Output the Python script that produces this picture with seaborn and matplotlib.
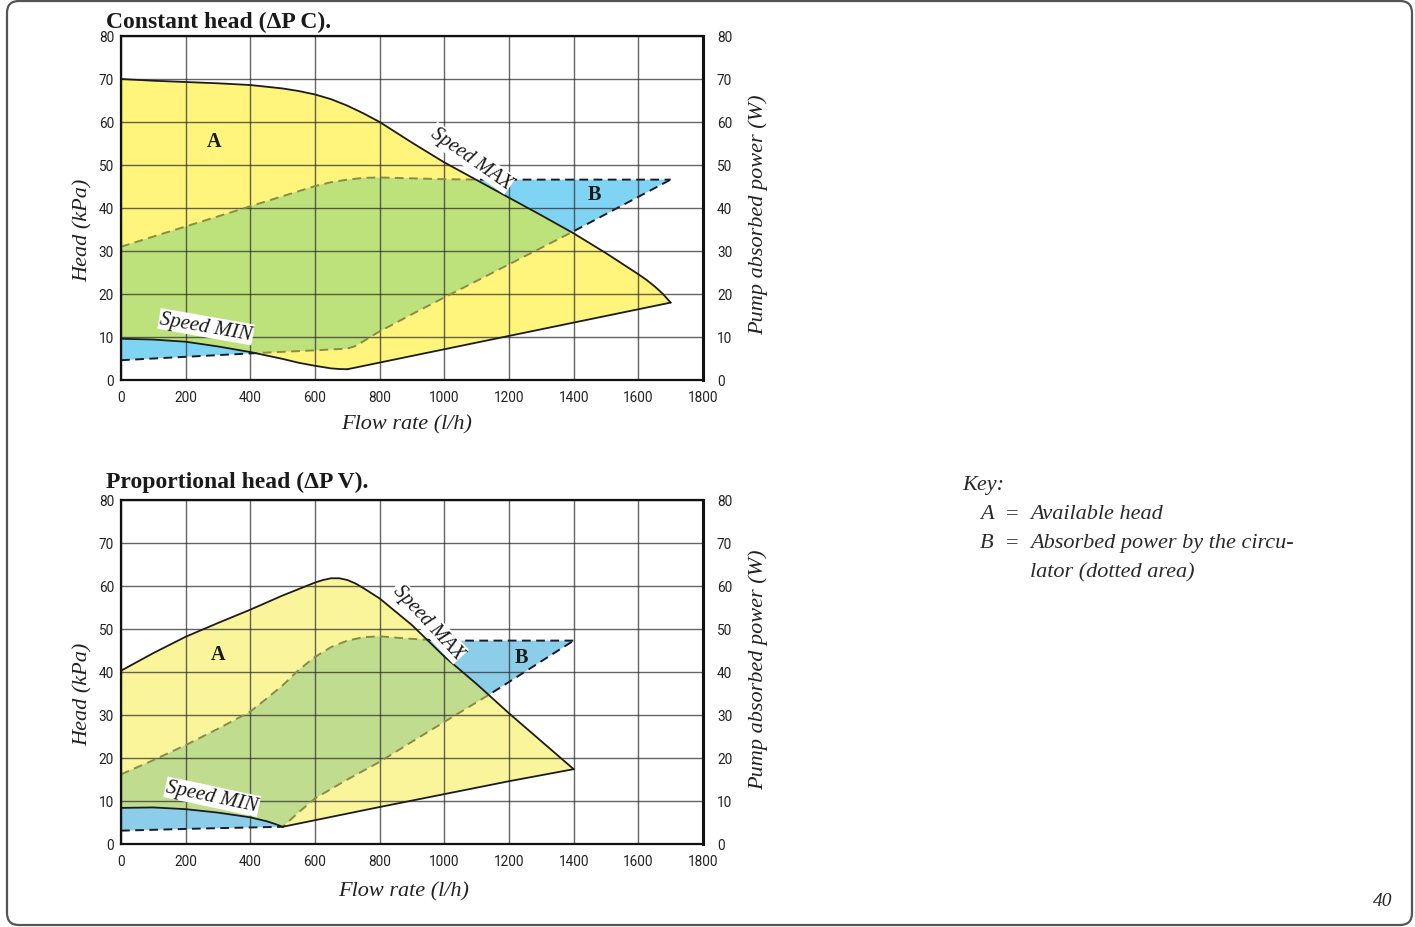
import numpy as np
import pandas as pd
import matplotlib
matplotlib.use("Agg")
import matplotlib.pyplot as plt
import seaborn as sns
from matplotlib.patches import FancyBboxPatch
from matplotlib.transforms import IdentityTransform

# ---------------- data ----------------
flow_ticks = [0, 200, 400, 600, 800, 1000, 1200, 1400, 1600, 1800]
head_ticks = [0, 10, 20, 30, 40, 50, 60, 70, 80]

# Constant head (dP C)
c_max_flow = [0, 100, 200, 300, 400, 500, 550, 600, 650, 700, 750, 800, 850, 900, 1000, 1100, 1200,
              1300, 1400, 1500, 1600, 1625, 1650, 1675, 1700]
c_max_head = [70.0, 69.6, 69.3, 69.0, 68.6, 67.8, 67.2, 66.4, 65.3, 63.8, 62.0, 60.0, 57.6, 55.2, 50.6,
              46.5, 42.4, 38.3, 34.1, 29.5, 24.6, 23.3, 21.8, 20.1, 18.0]
c_low_flow = [700, 1700]
c_low_head = [2.5, 18.0]
c_min_flow = [0, 100, 200, 300, 400, 450, 500, 550, 600, 650, 675, 700]
c_min_head = [9.6, 9.4, 8.9, 7.8, 6.5, 5.7, 4.9, 4.0, 3.3, 2.7, 2.55, 2.5]
c_pw_up_flow = [0, 200, 400, 600, 650, 700, 750, 800, 900, 1000, 1100, 1200, 1700]
c_pw_up_val = [31.0, 35.7, 40.4, 45.1, 46.0, 46.6, 47.0, 47.1, 46.9, 46.7, 46.6, 46.6, 46.6]
c_pw_lo_flow = [0, 430, 600, 650, 700, 725, 750, 775, 800, 900, 1000, 1200, 1390, 1700]
c_pw_lo_val = [4.6, 6.3, 6.9, 7.1, 7.3, 7.9, 9.0, 10.2, 11.3, 15.3, 19.2, 26.9, 34.2, 46.6]

# Proportional head (dP V)
p_max_flow = [0, 100, 200, 300, 400, 500, 600, 625, 650, 675, 700, 725, 750, 775, 800, 850, 900,
              1000, 1100, 1200, 1300, 1400]
p_max_head = [40.3, 44.4, 48.2, 51.4, 54.5, 57.8, 60.8, 61.4, 61.8, 61.8, 61.4, 60.6, 59.5, 58.3,
              57.1, 54.0, 50.9, 43.6, 37.2, 30.4, 23.9, 17.4]
p_low_flow = [500, 800, 1000, 1200, 1400]
p_low_head = [4.0, 8.6, 11.6, 14.6, 17.4]
p_min_flow = [0, 100, 200, 300, 400, 450, 475, 500]
p_min_head = [8.4, 8.5, 8.1, 7.3, 6.2, 5.3, 4.7, 4.0]
p_pw_up_flow = [0, 100, 200, 300, 400, 450, 500, 550, 600, 650, 700, 750, 800, 900, 1000, 1400]
p_pw_up_val = [16.2, 19.5, 23.0, 26.8, 30.8, 33.8, 36.9, 40.5, 43.5, 45.8, 47.3, 48.1, 48.3, 47.7,
               47.3, 47.3]
p_pw_lo_flow = [0, 250, 500, 550, 600, 700, 800, 900, 1000, 1140, 1400]
p_pw_lo_val = [3.1, 3.6, 4.0, 7.4, 10.6, 15.0, 19.1, 23.8, 28.4, 34.8, 47.3]

titles = ["Constant head (\u0394P C).", "Proportional head (\u0394P V)."]

# ---------------- style ----------------
sns.set_theme(style="white")
plt.rcParams['font.family'] = ['Liberation Serif', 'DejaVu Serif']

SERIF = ['Liberation Serif', 'DejaVu Serif']
TICKF = ['Roboto', 'DejaVu Sans']

fig = plt.figure(figsize=(14.15, 9.28), dpi=100)
W, H = 1415, 928

def fx(px):
    return px / W

def fy(py):
    return 1 - py / H

panels = [
    dict(top=37, bottom=381,
         maxf=c_max_flow, maxh=c_max_head, lowf=c_low_flow, lowh=c_low_head,
         minf=c_min_flow, minh=c_min_head,
         puf=c_pw_up_flow, puv=c_pw_up_val, plf=c_pw_lo_flow, plv=c_pw_lo_val,
         yellow='#fff47c', green='#bde17b', blue='#7fd4f4',
         A=(288, 55.6), B=(1464, 43.2),
         smax=(1082, 51.6, -35), smin=(263, 12.4, -10),
         title_base=28, hl_y=0.439, pl_y=0.483, xl_y=-0.100, xl_x=0.491),
    dict(top=501, bottom=845,
         maxf=p_max_flow, maxh=p_max_head, lowf=p_low_flow, lowh=p_low_head,
         minf=p_min_flow, minh=p_min_head,
         puf=p_pw_up_flow, puv=p_pw_up_val, plf=p_pw_lo_flow, plv=p_pw_lo_val,
         yellow='#faf59a', green='#c0dd8f', blue='#8ccdea',
         A=(300, 44.3), B=(1239, 43.6),
         smax=(950, 51.7, -47), smin=(282, 11.0, -12),
         title_base=488, hl_y=0.439, pl_y=0.509, xl_y=-0.108, xl_x=0.485),
]

for i, p in enumerate(panels):
    ax = fig.add_axes([fx(121), fy(p['bottom']), fx(703) - fx(121), fy(p['top']) - fy(p['bottom'])])
    ax.set_xlim(0, 1800)
    ax.set_ylim(0, 80)

    # polygons: region A (max curve, lower boundary back, min curve back)
    a_x = list(p['maxf']) + list(p['lowf'])[::-1][1:] + list(p['minf'])[::-1][1:]
    a_y = list(p['maxh']) + list(p['lowh'])[::-1][1:] + list(p['minh'])[::-1][1:]
    # power region (upper power line, lower power line back)
    pw_x = list(p['puf']) + list(p['plf'])[::-1]
    pw_y = list(p['puv']) + list(p['plv'])[::-1]

    ax.fill(pw_x, pw_y, color=p['blue'], lw=0, zorder=0.6)
    dash = (0, (4.5, 2.8))
    for xs, ys in [(p['puf'], p['puv']), (p['plf'], p['plv'])]:
        sns.lineplot(x=xs, y=ys, ax=ax, color='#1a1a2a', lw=1.4, sort=False,
                     estimator=None, zorder=0.7)
        ax.lines[-1].set_linestyle(dash)

    yellow_poly = ax.fill(a_x, a_y, color=p['yellow'], lw=0, zorder=0.8)[0]
    green_poly = ax.fill(pw_x, pw_y, color=p['green'], lw=0, zorder=0.9)[0]
    green_poly.set_clip_path(yellow_poly)

    # olive dashed inside A
    for xs, ys in [(p['puf'], p['puv']), (p['plf'], p['plv'])]:
        sns.lineplot(x=xs, y=ys, ax=ax, color='#8c8a48', lw=1.4, sort=False,
                     estimator=None, zorder=1.6)
        ln = ax.lines[-1]
        ln.set_linestyle(dash)
        ln.set_clip_path(yellow_poly)

    # solid curves
    for xs, ys in [(p['maxf'], p['maxh']), (p['lowf'], p['lowh']), (p['minf'], p['minh'])]:
        sns.lineplot(x=xs, y=ys, ax=ax, color='#1c1c1c', lw=1.3, sort=False,
                     estimator=None, zorder=2)
        ax.lines[-1].set_solid_joinstyle('round')

    # grid
    ax.set_axisbelow('line')
    ax.set_xticks(flow_ticks)
    ax.set_yticks(head_ticks)
    ax.grid(True, color='#2a2a2a', alpha=0.72, lw=1.0)
    for s in ax.spines.values():
        s.set_color('#111111')
        s.set_linewidth(1.6)
    ax.spines['right'].set_linewidth(2.2)
    ax.tick_params(axis='both', length=0, labelsize=9.8, colors='#222222')
    ax.tick_params(axis='y', pad=5)
    ax.tick_params(axis='x', pad=7)
    for lab in ax.get_xticklabels() + ax.get_yticklabels():
        lab.set_family(TICKF)

    ax.set_xlabel('Flow rate (l/h)', fontsize=16, style='italic', family=SERIF, color='#222222')
    ax.xaxis.set_label_coords(p['xl_x'], p['xl_y'])
    ax.set_ylabel('Head (kPa)', fontsize=16, style='italic', family=SERIF, color='#222222')
    ax.yaxis.set_label_coords(-0.048, p['hl_y'])

    ax2 = ax.twinx()
    ax2.set_ylim(0, 80)
    ax2.set_yticks(head_ticks)
    ax2.grid(False)
    ax2.tick_params(axis='y', length=0, labelsize=9.8, pad=10, colors='#222222')
    for lab in ax2.get_yticklabels():
        lab.set_family(TICKF)
    for s in ax2.spines.values():
        s.set_visible(False)
    ax2.set_ylabel('Pump absorbed power (W)', fontsize=16, style='italic', family=SERIF, color='#222222')
    ax2.yaxis.set_label_coords(1.078, p['pl_y'])

    # annotations
    ax.text(p['A'][0], p['A'][1], 'A', fontsize=14.5, fontweight='bold', family=SERIF,
            ha='center', va='center', color='#1a1a1a', zorder=3)
    ax.text(p['B'][0], p['B'][1], 'B', fontsize=14.5, fontweight='bold', family=SERIF,
            ha='center', va='center', color='#1a1a1a', zorder=3)
    sx, sy, sr = p['smax']
    ax.text(sx, sy, 'Speed MAX', fontsize=14.5, style='italic', family=SERIF, rotation=sr,
            rotation_mode='anchor', ha='center', va='center', color='#1a1a1a', zorder=3,
            bbox=dict(facecolor='white', edgecolor='none', pad=0.8))
    mx, my, mr = p['smin']
    ax.text(mx, my, 'Speed MIN', fontsize=15, style='italic', family=SERIF, rotation=mr,
            rotation_mode='anchor', ha='center', va='center', color='#1a1a1a', zorder=3,
            bbox=dict(facecolor='white', edgecolor='none', pad=0.8))

    fig.text(fx(106), fy(p['title_base']), titles[i], fontsize=17, fontweight='bold',
             family=SERIF, ha='left', va='baseline', color='#1a1a1a')

# key
key_kw = dict(fontsize=16, style='italic', family=SERIF, color='#2a2a2a', va='baseline')
fig.text(fx(962), fy(490), 'Key:', ha='left', **key_kw)
fig.text(fx(980), fy(519), 'A', ha='left', **key_kw)
fig.text(fx(1006), fy(519), '=', ha='left', **{**key_kw, 'style': 'normal'})
fig.text(fx(1030), fy(519), 'Available head', ha='left', **key_kw)
fig.text(fx(980), fy(548), 'B', ha='left', **key_kw)
fig.text(fx(1006), fy(548), '=', ha='left', **{**key_kw, 'style': 'normal'})
fig.text(fx(1030), fy(548), 'Absorbed power by the circu-', ha='left', **key_kw)
fig.text(fx(1030), fy(577), 'lator (dotted area)', ha='left', **key_kw)

# page number
fig.text(fx(1392), fy(906), '40', ha='right', va='baseline', fontsize=14, style='italic',
         family=SERIF, color='#2a2a2a')

# page border
border = FancyBboxPatch((7, 2), 1405, 924, boxstyle='round,pad=0,rounding_size=12',
                        transform=IdentityTransform(), facecolor='none',
                        edgecolor='#555555', lw=1.6, zorder=10)
fig.patches.append(border)

fig.savefig('out.png', dpi=100)
